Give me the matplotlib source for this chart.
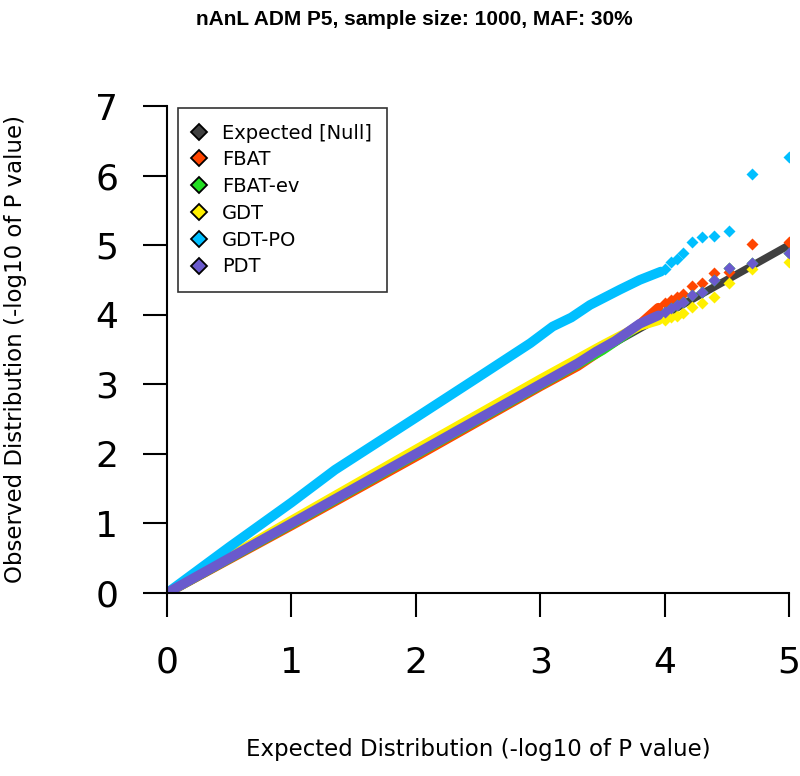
import matplotlib
matplotlib.use("Agg")
import matplotlib.pyplot as plt
from matplotlib.lines import Line2D

# expected (null) line
null_x = [0.0, 5.0]
null_y = [0.0, 5.0]

# dense part of each QQ curve
fbat_band_x = [0.0, 1.0, 2.0, 3.0, 3.3, 3.5, 3.8, 3.95]
fbat_band_y = [0.0, 0.97, 1.96, 2.97, 3.26, 3.50, 3.86, 4.10]
fbatev_band_x = [0.0, 1.0, 2.0, 3.0, 3.5, 3.8, 3.95]
fbatev_band_y = [0.0, 0.99, 1.99, 2.99, 3.49, 3.85, 3.98]
gdt_band_x = [0.0, 1.0, 2.0, 3.0, 3.5, 3.8, 3.95]
gdt_band_y = [0.0, 1.04, 2.06, 3.07, 3.56, 3.84, 3.92]
gdtpo_band_x = [0.0, 0.5, 1.0, 1.35, 2.0, 2.5, 2.92, 3.1, 3.25, 3.4, 3.64, 3.8, 3.97]
gdtpo_band_y = [0.0, 0.66, 1.30, 1.77, 2.52, 3.10, 3.59, 3.83, 3.96, 4.14, 4.36, 4.50, 4.62]
pdt_band_x = [0.0, 1.0, 2.0, 2.5, 3.0, 3.3, 3.45, 3.6, 3.8, 3.95]
pdt_band_y = [0.0, 1.0, 2.0, 2.5, 3.0, 3.3, 3.47, 3.62, 3.87, 3.99]

# top ten p-values of each test
tail_x = [4.0, 4.05, 4.1, 4.15, 4.22, 4.3, 4.4, 4.52, 4.7, 5.0]
fbat_tail_y = [4.17, 4.21, 4.25, 4.30, 4.41, 4.45, 4.60, 4.61, 5.01, 5.04]
fbatev_tail_y = [4.04, 4.09, 4.14, 4.18, 4.28, 4.33, 4.50, 4.67, 4.74, 4.89]
gdt_tail_y = [3.93, 3.96, 3.98, 4.02, 4.11, 4.17, 4.26, 4.45, 4.66, 4.76]
gdtpo_tail_y = [4.65, 4.76, 4.80, 4.88, 5.04, 5.11, 5.13, 5.20, 6.02, 6.27]
pdt_tail_y = [4.04, 4.09, 4.14, 4.18, 4.28, 4.33, 4.50, 4.67, 4.74, 4.89]

labels = ['Expected [Null]', 'FBAT', 'FBAT-ev', 'GDT', 'GDT-PO', 'PDT']
colors = ['#404040', '#FF4500', '#22DD22', '#FFF000', '#00BFFF', '#6A5ACD']

fig = plt.figure(figsize=(8, 7.76), dpi=100)
ax = fig.add_axes([167 / 800, 183 / 776, 622 / 800, 487 / 776])

ax.plot(null_x, null_y, color=colors[0], lw=5.5, solid_capstyle='butt')

series = [
    (fbat_band_x, fbat_band_y, fbat_tail_y, colors[1]),
    (fbatev_band_x, fbatev_band_y, fbatev_tail_y, colors[2]),
    (gdt_band_x, gdt_band_y, gdt_tail_y, colors[3]),
    (gdtpo_band_x, gdtpo_band_y, gdtpo_tail_y, colors[4]),
    (pdt_band_x, pdt_band_y, pdt_tail_y, colors[5]),
]
for bx, by, ty, c in series:
    ax.plot(bx, by, color=c, lw=7, solid_capstyle='round', solid_joinstyle='round')
    ax.plot(tail_x, ty, ls='none', marker='D', ms=6.5, color=c, mec='none')

ax.set_xlim(0, 5)
ax.set_ylim(0, 7)
ax.set_xticks([0, 1, 2, 3, 4, 5])
ax.set_yticks([0, 1, 2, 3, 4, 5, 6, 7])
for side in ['top', 'right']:
    ax.spines[side].set_visible(False)
for side in ['left', 'bottom']:
    ax.spines[side].set_linewidth(1.5)
ax.tick_params(direction='out', length=17, width=1.5, labelsize=26)
ax.tick_params(axis='x', pad=21)
ax.tick_params(axis='y', pad=18)

handles = [Line2D([0], [0], ls='none', marker='D', ms=8, markerfacecolor=c,
                  markeredgecolor='black', markeredgewidth=1.3) for c in colors]
leg = ax.legend(handles, labels, loc='upper left', bbox_to_anchor=(0.018, 0.996),
                borderaxespad=0, fontsize=14, frameon=True, fancybox=False,
                edgecolor='black', labelspacing=0.4, handlelength=0.5,
                handletextpad=0.95, borderpad=0.8)
leg.get_frame().set_linewidth(1.2)

fig.text(414 / 800, 1 - 25 / 776, 'nAnL ADM P5, sample size: 1000, MAF: 30%',
         ha='center', va='baseline', fontsize=15, fontweight='bold',
         family='Liberation Sans')
fig.text(478 / 800, 1 - 756 / 776, 'Expected Distribution (-log10 of P value)',
         ha='center', va='baseline', fontsize=16.5)
fig.text(16 / 800, 1 - 349 / 776, 'Observed Distribution (-log10 of P value)',
         ha='center', va='center', rotation=90, fontsize=16.5)

fig.savefig('out.png', dpi=100)
